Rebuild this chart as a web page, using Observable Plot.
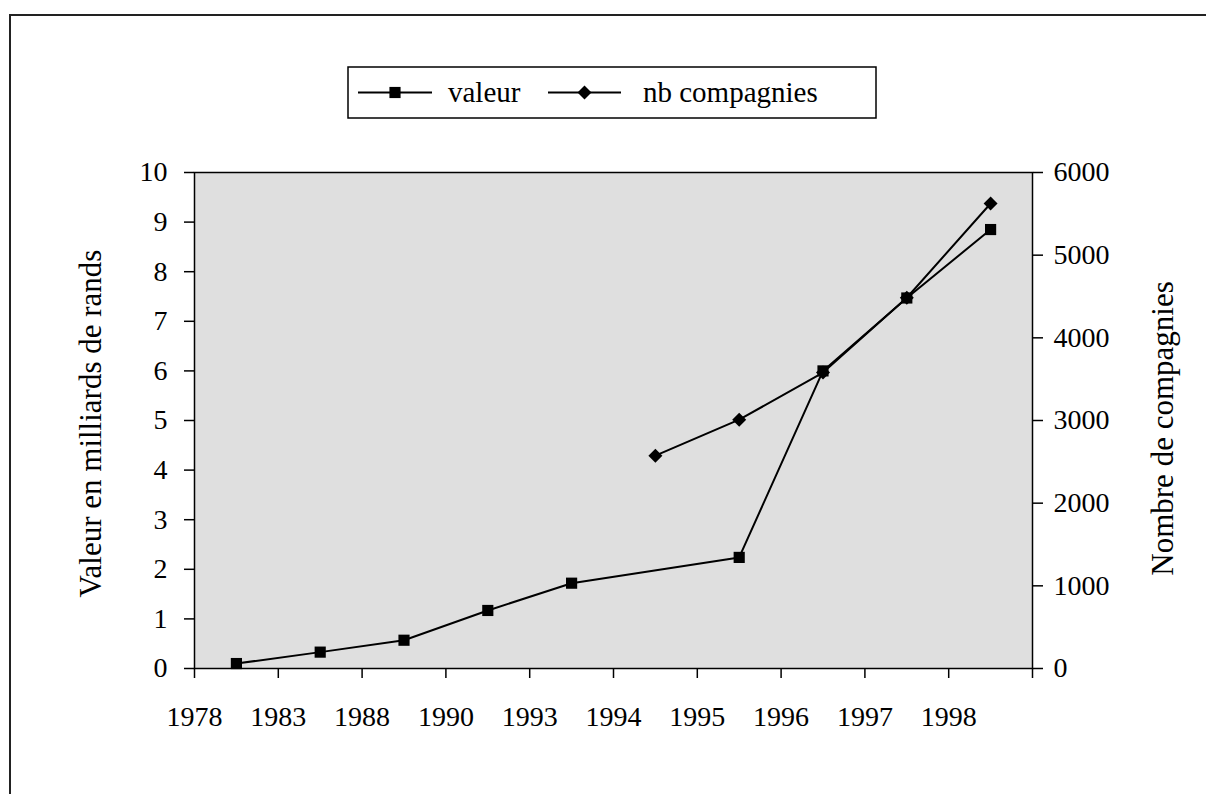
<!DOCTYPE html>
<html>
<head>
<meta charset="utf-8">
<script src="https://cdn.jsdelivr.net/npm/d3@7"></script>
<script src="https://cdn.jsdelivr.net/npm/@observablehq/plot@0.6"></script>
<style>
  body { margin: 0; background: #fff; overflow: hidden; }
  #wrap { position: relative; width: 1206px; height: 794px; overflow: hidden; font-family: "Liberation Serif", serif; }
  #frame { position: absolute; left: 9px; top: 14px; width: 1300px; height: 900px; border: 2px solid #222; box-sizing: border-box; }
  #chart { position: absolute; left: 0; top: 0; }
</style>
</head>
<body>
<div id="wrap">
  <div id="frame"></div>
  <div id="chart"></div>
</div>
<script>
// ---- data ----
const categories = ["1978", "1983", "1988", "1990", "1993", "1994", "1995", "1996", "1997", "1998"];
const valeur = [0.10, 0.33, 0.57, 1.17, 1.72, null, 2.24, 6.0, 7.47, 8.85];
const nbCompagnies = [null, null, null, null, null, 2575, 3010, 3580, 4485, 5625];
const leftTicks = [0, 1, 2, 3, 4, 5, 6, 7, 8, 9, 10];
const rightTicks = [0, 1000, 2000, 3000, 4000, 5000, 6000];
const leftMax = 10;
const rightMax = 6000;
const seriesNames = ["valeur", "nb compagnies"];
const leftTitle = "Valeur en milliards de rands";
const rightTitle = "Nombre de compagnies";

// ---- build ----
const serif = '"Liberation Serif", serif';
const k = leftMax / rightMax;
const rows = categories.map((c, i) => ({cat: c, i, valeur: valeur[i], nb: nbCompagnies[i]}));
const vRows = rows.filter(d => d.valeur != null);
const nRows = rows.filter(d => d.nb != null);

const chart = Plot.plot({
  width: 1206,
  height: 794,
  marginLeft: 194,
  marginRight: 174,
  marginTop: 172,
  marginBottom: 126,
  x: {domain: [0, categories.length]},
  y: {domain: [0, leftMax]},
  style: {fontFamily: serif, fontSize: "28px", color: "#000", background: "transparent", overflow: "visible"},
  marks: [
    Plot.frame({fill: "#dfdfdf", stroke: "#000", strokeWidth: 1.5}),
    Plot.axisY({ticks: leftTicks, tickSize: 10, tickPadding: 17, label: null, strokeWidth: 1.5, fontSize: 28, fontFamily: serif}),
    Plot.axisY({anchor: "right", ticks: rightTicks.map(t => t * k), tickFormat: t => String(Math.round(t / k)), tickSize: 10, tickPadding: 11, label: null, strokeWidth: 1.5, fontSize: 28, fontFamily: serif}),
    Plot.axisX({ticks: d3.range(categories.length + 1), tickFormat: t => categories[t] ?? "", tickSize: 10, tickPadding: 28, label: null, strokeWidth: 1.5, fontSize: 28, fontFamily: serif}),
    Plot.text([leftTitle], {text: d => d, frameAnchor: "left", dx: -103, dy: 3, rotate: -90, fontSize: 31, fontFamily: serif, lineAnchor: "middle", textAnchor: "middle"}),
    Plot.text([rightTitle], {text: d => d, frameAnchor: "right", dx: 131, dy: 8, rotate: -90, fontSize: 31, fontFamily: serif, lineAnchor: "middle", textAnchor: "middle"}),
    Plot.line(vRows, {x: d => d.i + 0.5, y: "valeur", stroke: "#000", strokeWidth: 2}),
    Plot.line(nRows, {x: d => d.i + 0.5, y: d => d.nb * k, stroke: "#000", strokeWidth: 2}),
    Plot.dot(vRows, {x: d => d.i + 0.5, y: "valeur", symbol: "square", r: 6.3, fill: "#000", stroke: null}),
    Plot.dot(nRows, {x: d => d.i + 0.5, y: d => d.nb * k, symbol: "diamond2", r: 6.3, fill: "#000", stroke: null})
  ]
});
document.getElementById("chart").appendChild(chart);

// ---- legend (drawn into the same SVG) ----
const L = {x: 348, y: 67, w: 528, h: 51};
const leg = d3.select(chart).append("g").attr("class", "legend").attr("text-anchor", "start");
leg.append("rect").attr("x", L.x).attr("y", L.y).attr("width", L.w).attr("height", L.h)
  .attr("fill", "#fff").attr("stroke", "#000").attr("stroke-width", 1.5);
const items = [
  {name: seriesNames[0], x0: 358, x1: 432, sym: d3.symbolSquare, tx: 448},
  {name: seriesNames[1], x0: 548, x1: 621, sym: d3.symbolDiamond2, tx: 643}
];
const cy = L.y + L.h / 2;
items.forEach(it => {
  leg.append("line").attr("x1", it.x0).attr("x2", it.x1).attr("y1", cy).attr("y2", cy).attr("stroke", "#000").attr("stroke-width", 2);
  leg.append("path").attr("d", d3.symbol(it.sym, Math.PI * 6.3 * 6.3)()).attr("transform", `translate(${(it.x0 + it.x1) / 2},${cy})`).attr("fill", "#000");
  leg.append("text").attr("x", it.tx).attr("y", cy).attr("dy", "0.33em").attr("text-anchor", "start").attr("font-size", 29).attr("font-family", serif).attr("fill", "#000").text(it.name);
});
</script>
</body>
</html>
